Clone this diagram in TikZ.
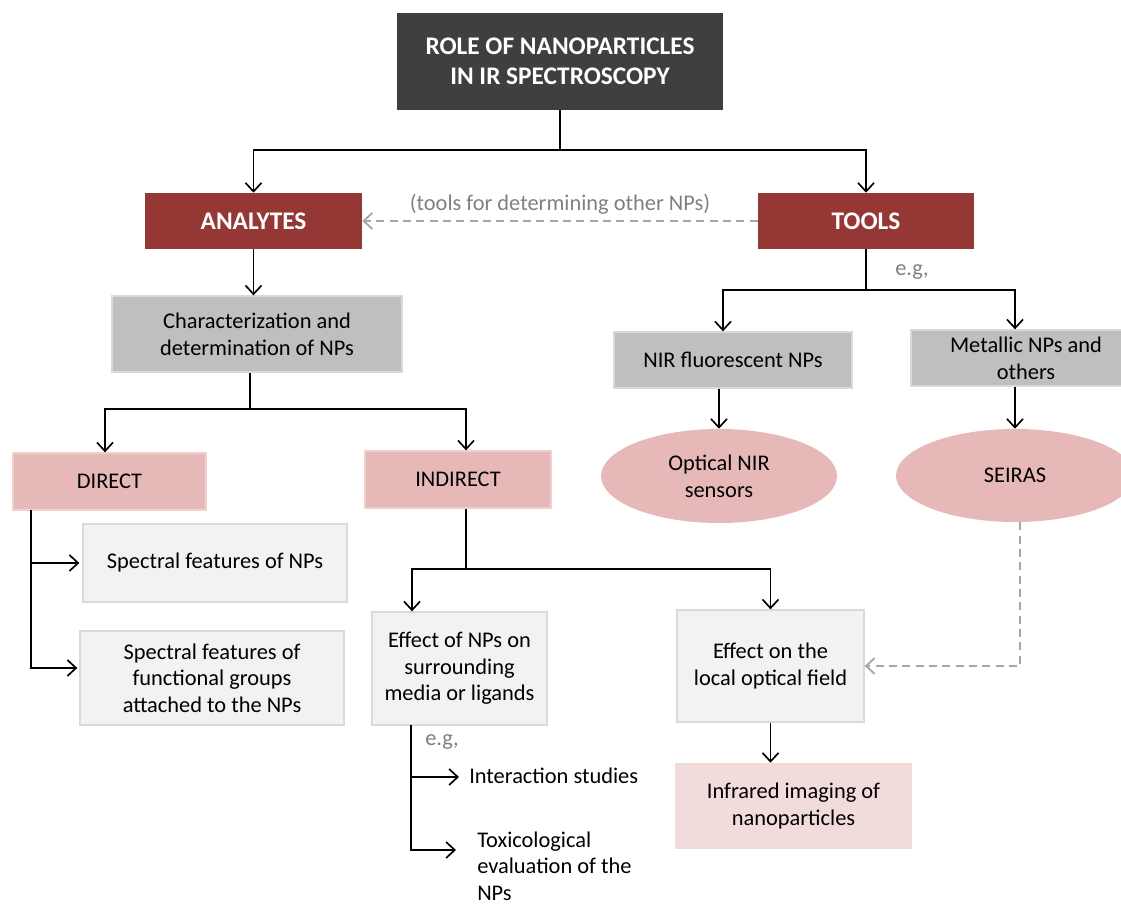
\documentclass[tikz,border=0pt]{standalone}
\usepackage{fontspec}
\setmainfont{Carlito}
\usetikzlibrary{arrows.meta,shapes.geometric}
\definecolor{darkbox}{HTML}{3F3F3F}
\definecolor{redbox}{HTML}{953735}
\definecolor{graybox}{HTML}{BFBFBF}
\definecolor{grayline}{HTML}{D9D9D9}
\definecolor{pinkbox}{HTML}{E6B9B8}
\definecolor{pinkline}{HTML}{EDD0CF}
\definecolor{lightbox}{HTML}{F2F2F2}
\definecolor{lightpink}{HTML}{F2DCDB}
\definecolor{dashgray}{HTML}{A6A6A6}
\definecolor{textgray}{HTML}{808080}
\tikzset{
  base/.style={rectangle, inner sep=0pt, align=center, font=\fontsize{16.8}{20}\selectfont},
  titlebox/.style={base, fill=darkbox, text=white, font=\fontsize{19}{22.5}\selectfont\bfseries},
  redb/.style={base, fill=redbox, text=white, font=\fontsize{19}{22}\selectfont\bfseries},
  grayb/.style={base, fill=graybox, draw=grayline, line width=1pt},
  pinkb/.style={base, fill=pinkbox, draw=pinkline, line width=1pt},
  lightb/.style={base, fill=lightbox, draw=grayline, line width=1pt},
  lpinkb/.style={base, fill=lightpink},
  ell/.style={ellipse, inner sep=0pt, fill=pinkbox, align=center, font=\fontsize{16.8}{20}\selectfont},
  plain/.style={inner sep=0pt, align=left, font=\fontsize{16.8}{20}\selectfont},
  graytext/.style={inner sep=0pt, text=textgray, font=\fontsize{16.8}{20}\selectfont},
  conn/.style={line width=1.25pt, black},
  arr/.style={conn, -{Straight Barb[length=6.5pt,width=12pt,line width=1.25pt]}},
  darr/.style={line width=1.4pt, dashgray, dash pattern=on 6pt off 4pt, -{Straight Barb[length=6.5pt,width=12pt,line width=1.4pt]}},
}
\begin{document}
\begin{tikzpicture}[x=0.75pt,y=-0.75pt]
\useasboundingbox (0,0) rectangle (1121,904);
\clip (0,0) rectangle (1121,904);
% top
\node[titlebox, minimum width=326*0.75pt, minimum height=97*0.75pt] (title) at (560,61.5) {ROLE OF NANOPARTICLES\\IN IR SPECTROSCOPY};
\node[redb, minimum width=217*0.75pt, minimum height=56*0.75pt] (analytes) at (253.5,221) {ANALYTES};
\node[redb, minimum width=216*0.75pt, minimum height=56*0.75pt] (tools) at (866,221) {TOOLS};
\coordinate (j1) at (560,150);
\draw[conn] (title.south) -- (j1);
\draw[arr] (j1) -| (analytes.north);
\draw[arr] (j1) -| (tools.north);
\draw[darr] (tools.west) -- (analytes.east) node[midway, above=4pt, graytext] {(tools for determining other NPs)};
% analytes branch
\node[grayb, minimum width=290*0.75pt, minimum height=76*0.75pt] (charac) at (257,334) {Characterization and\\determination of NPs};
\draw[arr] (analytes.south) -- (charac.north -| analytes.south);
\node[pinkb, minimum width=193*0.75pt, minimum height=57*0.75pt] (direct) at (109.5,481.5) {DIRECT};
\node[pinkb, minimum width=186*0.75pt, minimum height=57*0.75pt] (indirect) at (458,479.5) {INDIRECT};
\coordinate (j2) at (250,409);
\draw[conn] (charac.south -| j2) -- (j2);
\draw[arr] (j2) -| ([xshift=-4.5*0.75pt]direct.north);
\draw[arr] (j2) -| ([xshift=8*0.75pt]indirect.north);
% direct
\node[lightb, minimum width=264*0.75pt, minimum height=78*0.75pt] (spec1) at (215,563) {Spectral features of NPs};
\node[lightb, minimum width=264*0.75pt, minimum height=94*0.75pt] (spec2) at (212,678) {Spectral features of\\functional groups\\attached to the NPs};
\coordinate (d0) at (31,510);
\draw[arr] (d0) |- ([xshift=-3*0.75pt]spec1.west);
\draw[arr] (d0) |- ([xshift=-2*0.75pt,yshift=7.5pt]spec2.west);
% indirect
\node[lightb, minimum width=175*0.75pt, minimum height=113*0.75pt] (eff1) at (459.5,668.5) {Effect of NPs on\\surrounding\\media or ligands};
\node[lightb, minimum width=187*0.75pt, minimum height=112*0.75pt] (eff2) at (770.5,666) {Effect on the\\local optical field};
\coordinate (j3) at (466,569);
\draw[conn] ([xshift=8*0.75pt]indirect.south) -- (j3);
\draw[arr] (j3) -| ([xshift=-47.5*0.75pt]eff1.north);
\draw[arr] (j3) -| (eff2.north);
\node[lpinkb, minimum width=237*0.75pt, minimum height=86*0.75pt] (ir) at (793.5,806) {Infrared imaging of\\nanoparticles};
\draw[arr] (eff2.south) -- (ir.north -| eff2.south);
% examples below effect of NPs
\coordinate (e0) at (411,725);
\node[graytext, anchor=west] (eg1) at (425,742) {e.g,};
\node[plain, anchor=west] (inter) at (469,776) {Interaction studies};
\node[plain, anchor=west] (tox) at (477,866) {Toxicological\\evaluation of the\\NPs};
\draw[arr] (e0) |- ([xshift=-10*0.75pt,yshift=-0.75pt]inter.west);
\draw[arr] (e0) |- ([xshift=-21*0.75pt,yshift=12pt]tox.west);
% tools branch
\node[graytext, anchor=west] (eg2) at (895,272) {e.g,};
\coordinate (j4) at (866,290);
\draw[conn] (tools.south) -- (j4);
\node[grayb, minimum width=238*0.75pt, minimum height=56*0.75pt] (nir) at (733,360) {NIR fluorescent NPs};
\node[grayb, minimum width=230*0.75pt, minimum height=56*0.75pt] (metal) at (1026,358) {Metallic NPs and\\others};
\draw[arr] (j4) -| ([xshift=-10*0.75pt]nir.north);
\draw[arr] (j4) -| ([xshift=-11*0.75pt]metal.north);
\node[ell, minimum width=236*0.75pt, minimum height=94*0.75pt] (optical) at (719,476) {Optical NIR\\sensors};
\node[ell, minimum width=238*0.75pt, minimum height=93*0.75pt] (seiras) at (1015,475.5) {SEIRAS};
\draw[arr] ([xshift=-14*0.75pt]nir.south) -- (optical.north);
\draw[arr] ([xshift=-11*0.75pt]metal.south) -- (seiras.north);
\draw[darr] ([xshift=5*0.75pt]seiras.south) |- (eff2.east);
\end{tikzpicture}
\end{document}
